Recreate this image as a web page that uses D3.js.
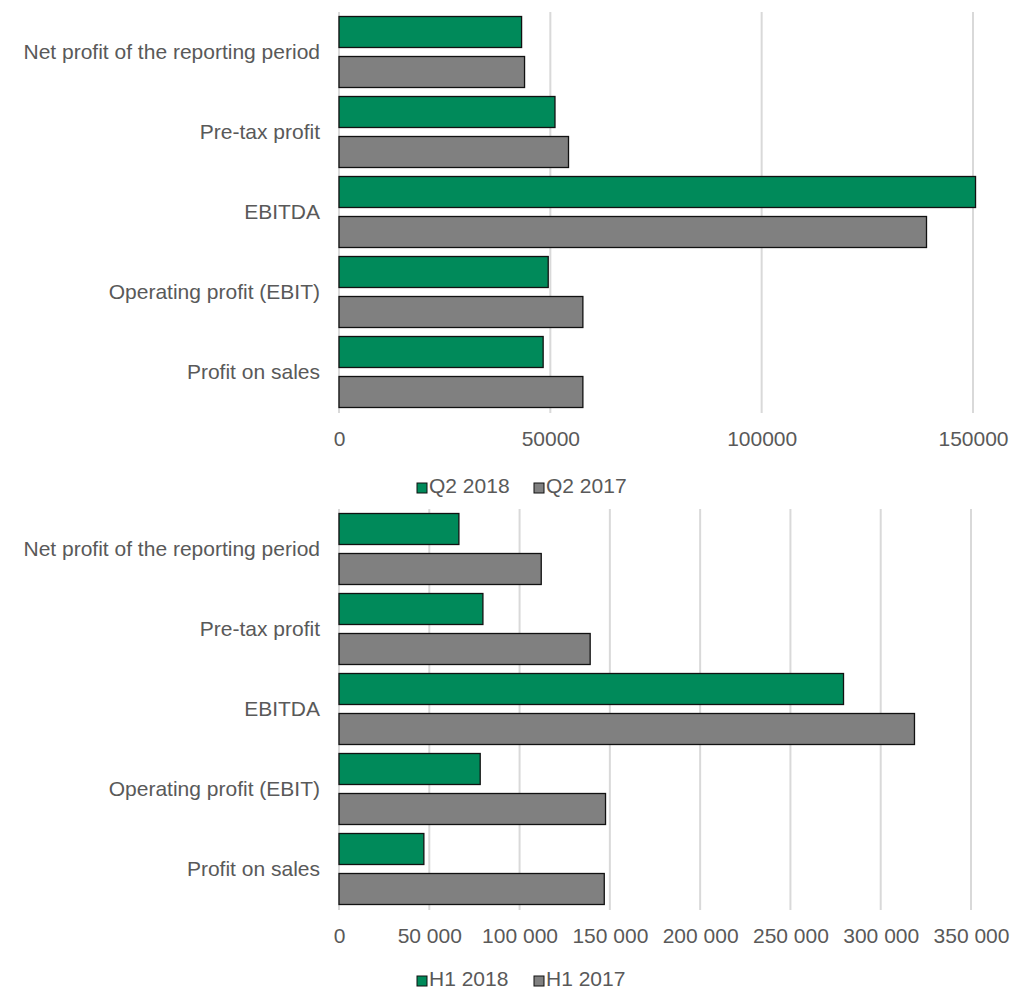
<!DOCTYPE html>
<html>
<head>
<meta charset="utf-8">
<style>
  body { margin: 0; background: #fff; }
  svg text { font-family: "Liberation Sans", Arial, sans-serif; fill: #595959; }
</style>
</head>
<body>
<script src="https://d3js.org/d3.v7.min.js"></script>
<script>

// categories, top to bottom
var categories = ["Net profit of the reporting period", "Pre-tax profit", "EBITDA",
                  "Operating profit (EBIT)", "Profit on sales"];

// quarter values
var q2_2018 = [43200, 51100, 150600, 49500, 48300];
var q2_2017 = [43900, 54300, 139000, 57700, 57700];
var qSeries = ["Q2 2018", "Q2 2017"];
var qTicks = [0, 50000, 100000, 150000];

// half-year values
var h1_2018 = [66400, 79700, 279400, 78200, 47000];
var h1_2017 = [112000, 139100, 318700, 147600, 146900];
var hSeries = ["H1 2018", "H1 2017"];
var hTicks = [0, 50000, 100000, 150000, 200000, 250000, 300000, 350000];

var colors = ["#008A5A", "#808080"];

var svg = d3.select("body").append("svg")
    .attr("width", 1012)
    .attr("height", 993);

var spaceFmt = d3.formatLocale({decimal: ".", thousands: " ", grouping: [3], currency: ["", ""]}).format(",");

function drawChart(opts) {
  var left = 339, right = opts.right, top = opts.top, height = 400;

  var rows = categories.map(function(c, i) {
    return {cat: c, vals: [opts.a[i], opts.b[i]]};
  });

  var x = d3.scaleLinear().domain([0, opts.max]).range([left, right]);
  var y = d3.scaleBand().domain(categories).range([top, top + height]).padding(0);
  var y1 = d3.scaleBand().domain([0, 1]).range([0, y.bandwidth()])
      .paddingInner(0.225).paddingOuter(0.1125);

  var g = svg.append("g");

  // gridlines
  g.selectAll(".grid")
      .data(opts.ticks)
    .enter().append("line")
      .attr("x1", function(d) { return x(d); })
      .attr("x2", function(d) { return x(d); })
      .attr("y1", top)
      .attr("y2", top + height + 1)
      .style("stroke", "#d9d9d9")
      .style("stroke-width", 2);

  // bars
  var groups = g.selectAll(".cat")
      .data(rows)
    .enter().append("g")
      .attr("transform", function(d) { return "translate(0," + y(d.cat) + ")"; });

  groups.selectAll("rect")
      .data(function(d) { return d.vals; })
    .enter().append("rect")
      .attr("x", x(0))
      .attr("y", function(d, i) { return y1(i); })
      .attr("width", function(d) { return x(d) - x(0); })
      .attr("height", y1.bandwidth())
      .style("fill", function(d, i) { return colors[i]; })
      .style("stroke", "#111")
      .style("stroke-width", 1.3);

  // category labels
  g.selectAll(".catlabel")
      .data(categories)
    .enter().append("text")
      .attr("x", 320)
      .attr("y", function(d) { return y(d) + y.bandwidth() / 2; })
      .attr("dy", "0.35em")
      .style("text-anchor", "end")
      .style("font-size", "21px")
      .text(function(d) { return d; });

  // x axis
  var axis = g.append("g")
      .attr("transform", "translate(0," + (top + height) + ")")
      .call(d3.axisBottom(x).tickValues(opts.ticks).tickSize(0).tickPadding(opts.pad).tickFormat(opts.fmt));
  axis.select(".domain").remove();
  axis.selectAll("text")
      .style("font-size", "21px")
      .style("font-family", "'Liberation Sans', Arial, sans-serif")
      .attr("fill", "#595959");

  // legend
  var legend = g.selectAll(".legend")
      .data(opts.series)
    .enter().append("g")
      .attr("transform", function(d, i) { return "translate(" + (417 + i * 117) + "," + opts.legendY + ")"; });

  legend.append("rect")
      .attr("x", 0)
      .attr("y", -10)
      .attr("width", 10)
      .attr("height", 10)
      .style("fill", function(d, i) { return colors[i]; })
      .style("stroke", "#111")
      .style("stroke-width", 1);

  legend.append("text")
      .attr("x", 12)
      .attr("y", 0)
      .style("font-size", "21px")
      .text(function(d) { return d; });
}

drawChart({top: 12, right: 973, max: 150000, ticks: qTicks, a: q2_2018, b: q2_2017,
           series: qSeries, fmt: d3.format("d"), pad: 19, legendY: 493});

drawChart({top: 509, right: 971, max: 350000, ticks: hTicks, a: h1_2018, b: h1_2017,
           series: hSeries, fmt: spaceFmt, pad: 19, legendY: 986});

</script>
</body>
</html>
